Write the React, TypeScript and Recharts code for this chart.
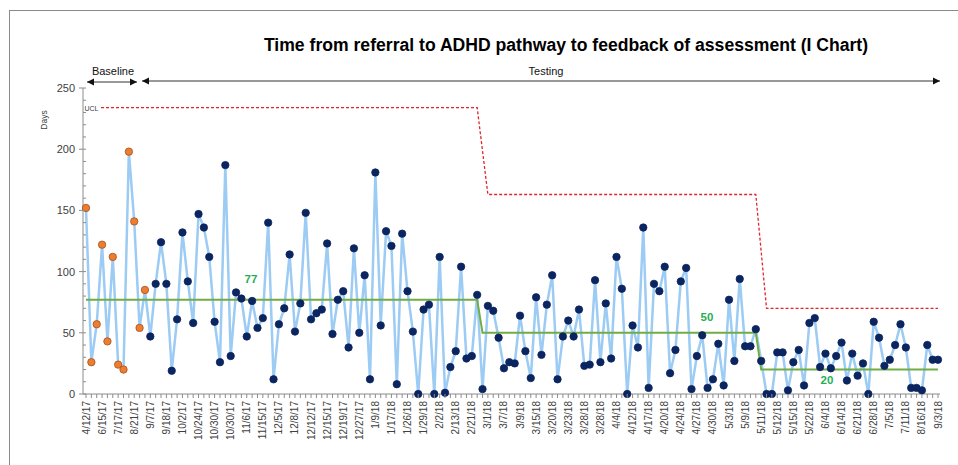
import React from 'react'
import { LineChart, Line, XAxis, YAxis } from 'recharts'

// days from referral to feedback, one value per patient (first 12 = baseline)
const days = [
  152, 26, 57, 122, 43, 112, 24, 20, 198, 141, 54, 85,
  47, 90, 124, 90, 19, 61, 132, 92, 58, 147, 136, 112, 59, 26, 187, 31, 83,
  78, 47, 76, 54, 62, 140, 12, 57, 70, 114, 51, 74, 148, 61, 66, 69, 123, 49, 77, 84, 38, 119, 50, 97, 12, 181, 56, 133,
  121, 8, 131, 84, 51, 0, 69, 73, 0, 112, 1, 22, 35, 104, 29, 31, 81, 4, 72, 68, 46, 21, 26, 25, 64, 35, 13, 79,
  32, 73, 97, 12, 47, 60, 47, 69, 23, 24, 93, 26, 74, 29, 112, 86, 0, 56, 38, 136, 5, 90, 84, 104, 17, 36, 92, 103,
  4, 31, 48, 5, 12, 41, 7, 77, 27, 94, 39, 39, 53, 27, 0, 0, 34, 34, 3, 26, 36, 7, 58, 62, 22, 33, 21, 31,
  42, 11, 33, 15, 25, 0, 59, 46, 23, 28, 40, 57, 38, 5, 5, 3, 40, 28, 28,
]

// every third point carries a date label
const tickLabels = [
  '4/12/17', '6/15/17', '7/17/17', '8/21/17', '9/7/17', '9/18/17', '10/2/17', '10/24/17', '10/30/17',
  '10/30/17', '11/6/17', '11/15/17', '12/5/17', '12/8/17', '12/12/17', '12/15/17', '12/19/17', '12/27/17',
  '1/9/18', '1/17/18', '1/26/18', '1/29/18', '2/2/18', '2/13/18', '2/21/18', '3/1/18', '3/7/18',
  '3/9/18', '3/15/18', '3/20/18', '3/23/18', '3/28/18', '3/28/18', '4/4/18', '4/12/18', '4/17/18',
  '4/20/18', '4/24/18', '4/27/18', '4/30/18', '5/3/18', '5/9/18', '5/11/18', '5/12/18', '5/15/18',
  '5/22/18', '6/4/18', '6/14/18', '6/21/18', '6/28/18', '7/5/18', '7/11/18', '8/16/18', '9/3/18',
]

const BASELINE_COUNT = 12
// phases: last index of each phase, mean and upper control limit
const phaseEnds = [73, 125, 159]
const phaseMeans = [77, 50, 20]
const phaseUcl = [234, 163, 70]

const yTicks = Array.from({ length: 26 }, (_, k) => k * 10)

const phaseOf = (i: number) => phaseEnds.findIndex(e => i <= e)

const data = days.map((d, i) => {
  const p = phaseOf(i)
  // the ucl step skips one point so it slants into the new level
  const uclGap = p > 0 && i === phaseEnds[p - 1] + 1
  return {
    i,
    days: d,
    mean: phaseMeans[p],
    ucl: uclGap ? null : phaseUcl[p],
  }
})

const FONT = '"Liberation Sans", Arial, sans-serif'
const AXIS = '#8c8c8c'
const TEXT = '#404040'

function XTick(props: any) {
  const { x, y, payload } = props
  const i = payload.value as number
  const label = i % 3 === 0 ? tickLabels[i / 3] : null
  return (
    <g>
      <line x1={x} y1={y} x2={x} y2={y + 4} stroke={AXIS} strokeWidth={1} />
      {label && (
        <text
          x={0}
          y={0}
          transform={`translate(${x + 3.5},${y + 7}) rotate(-90)`}
          textAnchor="end"
          fontSize={10}
          fontFamily={FONT}
          fill={TEXT}
        >
          {label}
        </text>
      )}
    </g>
  )
}

function YTick(props: any) {
  const { x, y, payload } = props
  const v = payload.value as number
  const major = v % 50 === 0
  return (
    <g>
      <line x1={major ? x - 4 : x} y1={y} x2={x + 3} y2={y} stroke={AXIS} strokeWidth={1} />
      {major && (
        <text x={x - 8} y={y + 4} textAnchor="end" fontSize={11} fontFamily={FONT} fill={TEXT}>
          {v}
        </text>
      )}
    </g>
  )
}

function Dot(props: any) {
  const { cx, cy, index } = props
  if (cx == null || cy == null) return null
  const base = index < BASELINE_COUNT
  return (
    <circle
      key={index}
      cx={cx}
      cy={cy}
      r={3.7}
      fill={base ? '#ed7d31' : '#0b2560'}
      stroke={base ? '#a4501c' : '#0b2560'}
      strokeWidth={0.8}
    />
  )
}

function Arrow({ x1, x2, y, left = true, right = true }: { x1: number; x2: number; y: number; left?: boolean; right?: boolean }) {
  return (
    <g>
      <line x1={x1} y1={y} x2={x2} y2={y} stroke="#333" strokeWidth={1} />
      {left && <polygon points={`${x1},${y} ${x1 + 7},${y - 3.5} ${x1 + 7},${y + 3.5}`} fill="#111" />}
      {right && <polygon points={`${x2},${y} ${x2 - 7},${y - 3.5} ${x2 - 7},${y + 3.5}`} fill="#111" />}
    </g>
  )
}

export default function App() {
  return (
    <div style={{ position: 'absolute', left: 0, top: 0, width: 958, height: 465, background: '#fff', overflow: 'hidden' }}>
      <LineChart width={958} height={465} data={data} margin={{ top: 88, right: 18, bottom: 11, left: 43 }}>
        <XAxis
          dataKey="i"
          interval={0}
          padding={{ left: 3, right: 2 }}
          height={60}
          tickSize={0}
          tickMargin={0}
          tickLine={false}
          tick={<XTick />}
          axisLine={{ stroke: AXIS }}
        />
        <YAxis
          width={40}
          domain={[0, 250]}
          ticks={yTicks}
          interval={0}
          tickSize={0}
          tickMargin={0}
          tickLine={false}
          tick={<YTick />}
          axisLine={{ stroke: AXIS }}
        />
        <Line
          dataKey="ucl"
          stroke="#e0262b"
          strokeWidth={1.3}
          strokeDasharray="3 2"
          dot={false}
          connectNulls
          isAnimationActive={false}
        />
        <Line dataKey="days" stroke="#9ccbf4" strokeWidth={2.5} dot={false} isAnimationActive={false} />
        <Line dataKey="mean" stroke="#70ad47" strokeWidth={2} dot={false} isAnimationActive={false} />
        <Line dataKey="days" stroke="none" dot={<Dot />} activeDot={false} isAnimationActive={false} />
      </LineChart>

      <svg width={958} height={465} style={{ position: 'absolute', left: 0, top: 0, pointerEvents: 'none' }}>
        {/* frame */}
        <line x1={9} y1={10.5} x2={958} y2={10.5} stroke="#8a8a8a" />
        <line x1={9.5} y1={10} x2={9.5} y2={465} stroke="#8a8a8a" />

        <text x={566} y={51} textAnchor="middle" fontSize={17.6} fontWeight="bold" fontFamily={FONT} fill="#000">
          Time from referral to ADHD pathway to feedback of assessment (I Chart)
        </text>

        <text x={113} y={75} textAnchor="middle" fontSize={11} fontFamily={FONT} fill="#111">Baseline</text>
        <Arrow x1={87} x2={137} y={82} />
        <text x={546} y={75} textAnchor="middle" fontSize={11} fontFamily={FONT} fill="#111">Testing</text>
        <Arrow x1={142} x2={940} y={81} />

        <text transform="translate(47,120) rotate(-90)" textAnchor="middle" fontSize={8.5} fontFamily={FONT} fill={TEXT}>Days</text>

        <rect x={84} y={103} width={15} height={9} fill="#fff" />
        <text x={84.5} y={110.5} fontSize={7} fontFamily={FONT} fill={TEXT}>UCL</text>

        <text x={251} y={283} textAnchor="middle" fontSize={11.5} fontWeight="bold" fontFamily={FONT} fill="#1fae55">77</text>
        <text x={707} y={321} textAnchor="middle" fontSize={11.5} fontWeight="bold" fontFamily={FONT} fill="#1fae55">50</text>
        <text x={827} y={384} textAnchor="middle" fontSize={11.5} fontWeight="bold" fontFamily={FONT} fill="#1fae55">20</text>
      </svg>
    </div>
  )
}
